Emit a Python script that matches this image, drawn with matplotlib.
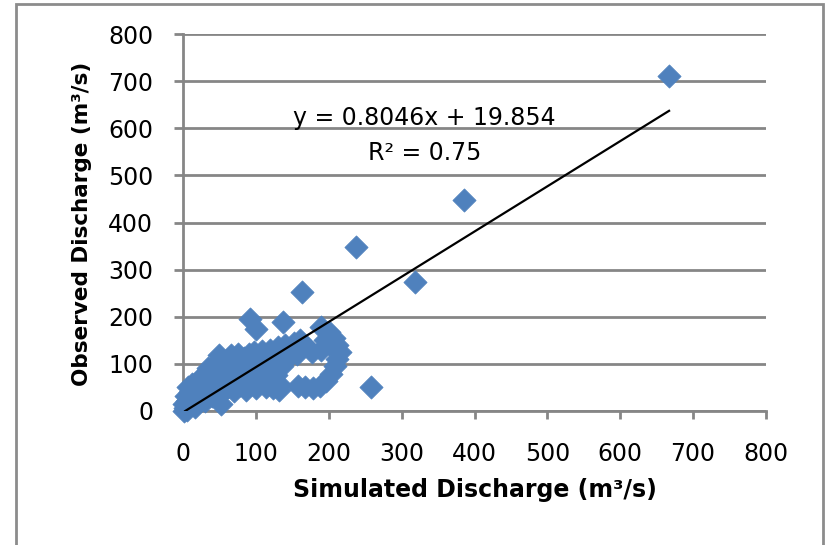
import matplotlib
matplotlib.use("Agg")
import matplotlib.pyplot as plt
from matplotlib.patches import Rectangle

# ---- data ----
sim_q = [1, 3, 2, 5, 6, 4, 8, 9, 7, 11, 12, 14, 16, 17, 19, 21, 23, 24, 27, 29,
         30, 32, 34, 36, 38, 40, 42, 44, 46, 48, 50, 52, 54, 56, 58, 60, 62, 64, 66, 68,
         70, 72, 74, 76, 78, 80, 82, 84, 86, 88, 90, 92, 94, 96, 98, 100, 102, 104, 106, 108,
         110, 112, 114, 116, 118, 120, 122, 124, 126, 128, 130, 132, 134, 136, 132, 140, 144, 148, 152, 156,
         160, 165,
         190, 200, 207, 212, 215, 212, 208, 203, 196, 188, 178, 168, 158, 177, 190, 200, 195,
         258, 163, 92, 100, 137, 238, 318, 385, 667]
obs_q = [0, 6, 14, 2, 22, 32, 12, 40, 50, 28, 58, 18, 45, 8, 35, 66, 52, 24, 75, 40,
         21, 60, 92, 78, 48, 32, 66, 100, 84, 55, 118, 15, 40, 96, 72, 108, 50, 88, 118, 62,
         42, 100, 80, 120, 55, 92, 68, 112, 45, 84, 122, 58, 100, 74, 125, 48, 88, 112, 62, 128,
         80, 100, 50, 118, 68, 130, 90, 48, 110, 76, 135, 58, 122, 96, 45, 140, 112, 128, 145, 120,
         150, 142,
         178, 168, 155, 140, 126, 110, 95, 78, 64, 52, 48, 50, 52, 125, 130, 142, 150,
         50, 253, 195, 175, 188, 347, 273, 448, 711]

# drawn trend line end points and its label texts
trend_sim = [3, 667]
trend_obs = [0, 637]
eq_text = "y = 0.8046x + 19.854"
r2_text = "R\u00b2 = 0.75"

x_ticks = [0, 100, 200, 300, 400, 500, 600, 700, 800]
y_ticks = [0, 100, 200, 300, 400, 500, 600, 700, 800]
x_label = "Simulated Discharge (m\u00b3/s)"
y_label = "Observed Discharge (m\u00b3/s)"

# ---- style ----
plt.rcParams['font.family'] = ['DejaVu Sans']
W, H = 827, 545
grid_c = '#868686'
pt_c = '#4F81BD'

fig = plt.figure(figsize=(W / 100, H / 100), dpi=100)
ax = fig.add_axes([183 / W, (H - 411) / H, (766 - 183) / W, (411 - 34) / H])

ax.set_xlim(x_ticks[0], x_ticks[-1])
ax.set_ylim(y_ticks[0], y_ticks[-1])
ax.set_xticks(x_ticks)
ax.set_yticks(y_ticks)
ax.grid(axis='y', color=grid_c, lw=2.0)
ax.set_axisbelow(True)
for s in ['top', 'right']:
    ax.spines[s].set_visible(False)
for s in ['left', 'bottom']:
    ax.spines[s].set_color(grid_c)
    ax.spines[s].set_linewidth(2.0)
ax.tick_params(axis='x', direction='out', length=6, width=2, color=grid_c,
               labelsize=17, pad=16, labelcolor='black')
ax.tick_params(axis='y', direction='out', length=6.5, width=2, color=grid_c,
               labelsize=17, pad=15, labelcolor='black')

ax.scatter(sim_q, obs_q, marker='D', s=140, color=pt_c, edgecolors=pt_c,
           linewidths=0.5, zorder=3, clip_on=False)
ax.plot(trend_sim, trend_obs, color='black', lw=1.6, zorder=4)

fig.text(424 / W, 1 - 125 / H, eq_text, ha='center', va='baseline', fontsize=17)
fig.text(425 / W, 1 - 160 / H, r2_text, ha='center', va='baseline', fontsize=17)

fig.text(475 / W, 1 - 490 / H, x_label, ha='center', va='center',
         fontsize=17, fontweight='bold')
fig.text(82 / W, 1 - 224 / H, y_label, ha='center', va='center', rotation=90,
         fontsize=15.5, fontweight='bold')

border = Rectangle((16 / W, -0.05), (823 - 16) / W, (1 - 4 / H) + 0.05,
                   transform=fig.transFigure, fill=False, edgecolor='#8c8c8c',
                   lw=2, clip_on=False)
fig.patches.append(border)

fig.savefig("out.png", dpi=100)
